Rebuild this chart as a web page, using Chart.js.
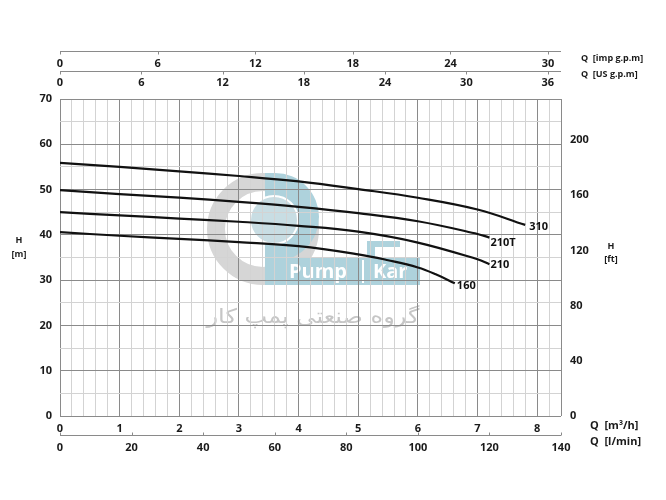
<!DOCTYPE html>
<html>
<head>
<meta charset="utf-8">
<script src="https://cdn.jsdelivr.net/npm/chart.js@4.4.1/dist/chart.umd.min.js"></script>
<style>
  html, body { margin: 0; padding: 0; background: #fff; }
  #wrap { width: 666px; height: 500px; }
</style>
</head>
<body>
<div id="wrap"><canvas id="grafico" width="666" height="500"></canvas></div>
<script>
// ---- data (flow in m3/h, head in m) ----
const q310 = [0, 1, 2, 3, 4, 5, 6, 7, 7.8];
const h310 = [55.9, 55.0, 54.0, 53.0, 51.8, 50.1, 48.2, 45.6, 42.2];
const q210T = [0, 1, 2, 3, 4, 5, 6, 7, 7.2];
const h210T = [49.9, 49.0, 48.2, 47.3, 46.2, 44.8, 43.0, 40.2, 39.4];
const q210 = [0, 1, 2, 3, 4, 5, 6, 7, 7.2];
const h210 = [45.0, 44.3, 43.6, 42.9, 42.0, 40.7, 38.3, 34.6, 33.5];
const q160 = [0, 1, 2, 3, 4, 5, 5.5, 6, 6.3, 6.62];
const h160 = [40.6, 39.8, 39.1, 38.4, 37.5, 35.7, 34.4, 32.8, 31.3, 29.3];
const curveNames = ['310', '210T', '210', '160'];

// axis ranges / tick steps
const qMaxM3h = 8.4;          // = 140 l/min
const qMaxLmin = 140;
const hMax = 70;
const stepM3h = 1, stepLmin = 20, stepImp = 6, stepUS = 6, stepM = 10, stepFt = 40;

const L_PER_IMP_GAL = 4.54609;
const L_PER_US_GAL = 3.785411784;
const M_PER_FT = 0.3048;

const corTexto = '#1a1a1a';
const gridEscuro = '#8a8a8a';
const gridClaro = '#d3d3d3';
const fonteTick = { family: 'Open Sans', size: 11, weight: 'bold' };

function multiplo(v, step) {
    return Math.abs(v / step - Math.round(v / step)) < 1e-6;
}

function pontos(qs, hs) {
    return qs.map((q, i) => ({ x: q, y: hs[i] }));
}

function curva(nome, qs, hs) {
    return {
        label: nome,
        data: pontos(qs, hs),
        borderColor: '#111',
        borderWidth: 2.2,
        pointRadius: 0,
        fill: false,
        tension: 0.4,
        xAxisID: 'x',
        yAxisID: 'y'
    };
}

// watermark of the pump company, drawn under the grid
const marcaDagua = {
    id: 'marcaDagua',
    beforeDraw(chart) {
        const ctx = chart.ctx;
        ctx.save();
        ctx.strokeStyle = '#d6d6d6';
        ctx.lineWidth = 18;
        ctx.beginPath();
        ctx.arc(263, 229, 47, 0, Math.PI * 2);
        ctx.stroke();

        ctx.fillStyle = '#aed2dc';
        ctx.beginPath();
        ctx.moveTo(265, 173);
        ctx.lineTo(275, 173);
        ctx.arc(275, 217, 44, -Math.PI / 2, Math.PI / 2);
        ctx.lineTo(265, 261);
        ctx.closePath();
        ctx.fill();
        ctx.fillStyle = '#c8dde3';
        ctx.beginPath();
        ctx.arc(274, 220, 24, 0, Math.PI * 2);
        ctx.fill();
        ctx.strokeStyle = '#ffffff';
        ctx.lineWidth = 2;
        ctx.stroke();

        ctx.fillStyle = '#aed2dc';
        ctx.fillRect(265, 257, 155, 28);
        ctx.fillRect(367, 241, 33, 6);
        ctx.fillRect(367, 241, 8, 16);

        ctx.fillStyle = '#ffffff';
        ctx.font = 'bold 20px "Open Sans"';
        ctx.textBaseline = 'middle';
        ctx.textAlign = 'left';
        ctx.fillText('Pump', 289, 272);
        ctx.fillText('Kar', 373, 272);
        ctx.fillRect(362, 260, 2, 23);

        ctx.fillStyle = '#c6c6c6';
        ctx.font = '20px "DejaVu Sans"';
        ctx.textAlign = 'center';
        const txt = 'گروه صنعتی پمپ کار';
        const w = ctx.measureText(txt).width;
        ctx.translate(313, 318);
        ctx.scale(213 / w, 1);
        ctx.fillText(txt, 0, 0);
        ctx.restore();
    }
};

// secondary axis lines, curve names and unit titles
const extras = {
    id: 'extras',
    afterDraw(chart) {
        const ctx = chart.ctx;
        const area = chart.chartArea;
        const s = chart.scales;
        ctx.save();
        ctx.strokeStyle = gridEscuro;
        ctx.lineWidth = 1;

        function linhaEixo(scale, y, step, dir) {
            ctx.beginPath();
            ctx.moveTo(area.left, y + 0.5);
            ctx.lineTo(area.right, y + 0.5);
            for (let v = 0; v <= scale.max + 1e-9; v += step) {
                const px = Math.round(scale.getPixelForValue(v)) + 0.5;
                ctx.moveTo(px, y + 0.5);
                ctx.lineTo(px, y + 0.5 + dir * 3);
            }
            ctx.stroke();
        }
        linhaEixo(s.xi, 51, stepImp, 1);
        linhaEixo(s.xu, 71, stepUS, 1);
        linhaEixo(s.xl, 435, stepLmin, -1);

        // curve labels next to the last point
        const offsets = [[4, 2], [1, 5], [1, 1], [2, 3]];
        ctx.fillStyle = '#111';
        ctx.font = 'bold 11px "Open Sans"';
        ctx.textAlign = 'left';
        ctx.textBaseline = 'middle';
        chart.data.datasets.forEach((ds, i) => {
            const last = ds.data[ds.data.length - 1];
            const px = s.x.getPixelForValue(last.x);
            const py = s.y.getPixelForValue(last.y);
            ctx.fillText(curveNames[i], px + offsets[i][0], py + offsets[i][1]);
        });

        // unit titles
        ctx.fillStyle = corTexto;
        ctx.font = 'bold 9px "Open Sans"';
        ctx.fillText('Q  [imp g.p.m]', 581, 58);
        ctx.fillText('Q  [US g.p.m]', 581, 74);
        ctx.font = 'bold 11px "Open Sans"';
        ctx.fillText('Q  [m³/h]', 590, 426);
        ctx.fillText('Q  [l/min]', 590, 442);
        ctx.font = 'bold 9px "Open Sans"';
        ctx.textAlign = 'center';
        ctx.fillText('H', 19, 240);
        ctx.fillText('[m]', 19, 254);
        ctx.fillText('H', 611, 246);
        ctx.fillText('[ft]', 611, 259);
        ctx.restore();
    }
};

function eixoSemGrade(extra) {
    return Object.assign({
        type: 'linear',
        min: 0,
        grid: { display: false, drawTicks: false },
        border: { display: false },
    }, extra);
}

new Chart(document.getElementById('grafico'), {
    type: 'line',
    data: {
        datasets: [
            curva('310', q310, h310),
            curva('210T', q210T, h210T),
            curva('210', q210, h210),
            curva('160', q160, h160)
        ]
    },
    options: {
        responsive: false,
        devicePixelRatio: 1,
        animation: false,
        layout: { padding: 0 },
        plugins: { legend: { display: false }, tooltip: { enabled: false } },
        scales: {
            x: {
                type: 'linear', position: 'bottom', weight: 0,
                min: 0, max: qMaxM3h,
                ticks: {
                    stepSize: 0.2, autoSkip: false, maxRotation: 0, padding: 6,
                    color: corTexto, font: fonteTick,
                    callback: v => multiplo(v, stepM3h) ? String(Math.round(v)) : ''
                },
                grid: {
                    drawTicks: false, lineWidth: 1,
                    color: c => (multiplo(c.tick.value, 1) || c.tick.value > qMaxM3h - 0.01) ? gridEscuro : gridClaro
                },
                border: { display: false },
                afterFit: sc => { sc.height = 20; }
            },
            xl: eixoSemGrade({
                position: 'bottom', weight: 1, max: qMaxLmin,
                ticks: { stepSize: stepLmin, maxRotation: 0, padding: 5, color: corTexto, font: fonteTick, includeBounds: false },
                afterFit: sc => { sc.height = 64; }
            }),
            xu: eixoSemGrade({
                position: 'top', weight: 0, max: qMaxLmin / L_PER_US_GAL,
                ticks: { stepSize: stepUS, maxRotation: 0, padding: 10, color: corTexto, font: fonteTick, includeBounds: false },
                afterFit: sc => { sc.height = 28; }
            }),
            xi: eixoSemGrade({
                position: 'top', weight: 1, max: qMaxLmin / L_PER_IMP_GAL,
                ticks: { stepSize: stepImp, maxRotation: 0, padding: 1, color: corTexto, font: fonteTick, includeBounds: false },
                afterFit: sc => { sc.height = 71; }
            }),
            y: {
                type: 'linear', position: 'left',
                min: 0, max: hMax,
                ticks: {
                    stepSize: 5, autoSkip: false, padding: 8,
                    color: corTexto, font: fonteTick,
                    callback: v => multiplo(v, stepM) ? String(v) : ''
                },
                grid: {
                    drawTicks: false, lineWidth: 1,
                    color: c => multiplo(c.tick.value, stepM) ? gridEscuro : gridClaro
                },
                border: { display: false },
                afterFit: sc => { sc.width = 60; }
            },
            yft: eixoSemGrade({
                position: 'right', max: hMax / M_PER_FT,
                ticks: { stepSize: stepFt, padding: 9, color: corTexto, font: fonteTick, includeBounds: false },
                afterFit: sc => { sc.width = 105; }
            })
        }
    },
    plugins: [marcaDagua, extras]
});
</script>
</body>
</html>
